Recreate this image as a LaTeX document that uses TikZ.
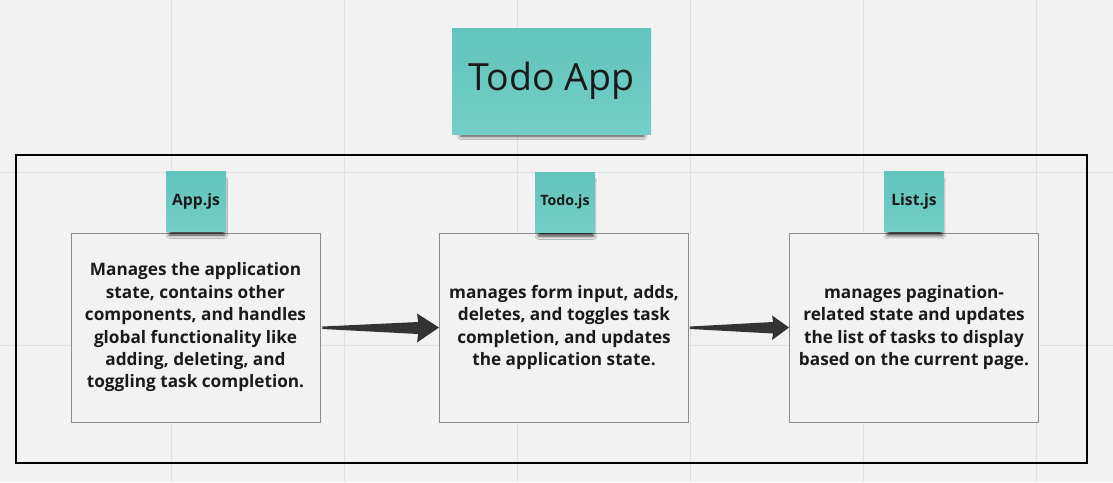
\documentclass[tikz,border=0pt]{standalone}
\usepackage{fontspec}
\setmainfont{Open Sans}
\usetikzlibrary{calc,shadows.blur}
\definecolor{bg}{HTML}{F2F2F2}
\definecolor{gridc}{HTML}{E0E0E0}
\definecolor{stickytop}{HTML}{62C4BC}
\definecolor{stickybot}{HTML}{72CEC7}
\definecolor{boxline}{HTML}{8C8C8C}
\definecolor{arrowc}{HTML}{333333}
\definecolor{textc}{HTML}{1A1A1A}
\tikzset{
  sticky/.style={draw=none, top color=stickytop, bottom color=stickybot, inner sep=0pt,
    text=textc, align=center,
    blur shadow={shadow xshift=1pt, shadow yshift=-7pt, shadow blur radius=3.5pt, shadow opacity=75, shadow scale=0.92}},
  titlesticky/.style={sticky, minimum width=199pt, minimum height=106pt, font=\fontsize{37.5}{42}\selectfont},
  labelsticky/.style={sticky, minimum width=60pt, minimum height=60pt, font=\bfseries\fontsize{15.7}{18}\selectfont},
  descbox/.style={draw=boxline, line width=0.9pt, fill=bg, minimum width=249pt, minimum height=189pt,
    inner sep=0pt, align=center, text=textc, font=\bfseries\fontsize{17.2}{22.4}\selectfont},
  frame/.style={draw=black, line width=1.8pt},
  fatarrow/.style={fill=arrowc, draw=none},
  gridline/.style={draw=gridc, line width=1pt}
}
\begin{document}
\begin{tikzpicture}[x=1pt,y=-1pt]
\useasboundingbox (0,0) rectangle (1113,482);
\fill[bg] (0,0) rectangle (1113,482);
% grid
\foreach \gx in {171,344,517,690,863,1036} { \draw[gridline] (\gx,0) -- (\gx,482); }
\foreach \gy in {172,345} { \draw[gridline] (0,\gy) -- (1113,\gy); }
% outer frame
\node[frame, minimum width=1071pt, minimum height=308pt, inner sep=0pt] (fr) at (551.5,309) {};
% title
\node[titlesticky] (title) at (551.5,81) {Todo App};
% boxes
\node[descbox] (b1) at (195.5,327.5) {Manages the application\\state, contains other\\components, and handles\\global functionality like\\adding, deleting, and\\toggling task completion.};
\node[descbox] (b2) at (564,327.5) {manages form input, adds,\\deletes, and toggles task\\completion, and updates\\the application state.};
\node[descbox] (b3) at (914,327.5) {manages pagination-\\related state and updates\\the list of tasks to display\\based on the current page.};
% label stickies
\node[labelsticky] (l1) at (196,201) {App.js};
\node[labelsticky, font=\bfseries\fontsize{14.2}{16}\selectfont] (l2) at (565,202) {Todo.js};
\node[labelsticky] (l3) at (914,201.5) {List.js};
% arrows
\fill[fatarrow] ($(b1.east)+(2,-1)$) -- ($(b2.west)+(-21,-5.5)$) -- ($(b2.west)+(-22,-14)$) -- (b2.west)
  -- ($(b2.west)+(-22,15)$) -- ($(b2.west)+(-21,6.5)$) -- ($(b1.east)+(2,1.5)$) -- cycle;
\fill[fatarrow] ($(b2.east)+(1,-1)$) -- ($(b3.west)+(-16,-5.5)$) -- ($(b3.west)+(-17,-12)$) -- (b3.west)
  -- ($(b3.west)+(-17,12.5)$) -- ($(b3.west)+(-16,6)$) -- ($(b2.east)+(1,1.5)$) -- cycle;
\end{tikzpicture}
\end{document}
